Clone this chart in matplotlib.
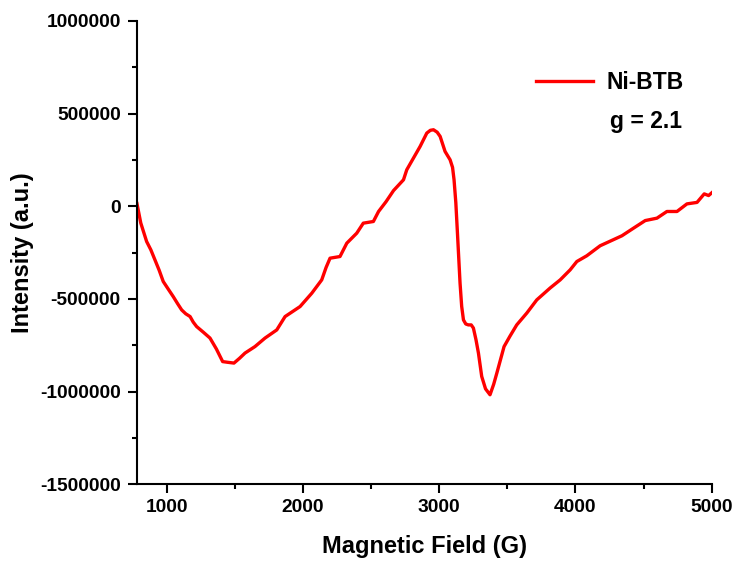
import numpy as np
import matplotlib
matplotlib.use('Agg')
import matplotlib.pyplot as plt
from matplotlib.ticker import MultipleLocator, FuncFormatter

# EPR spectrum of Ni-BTB
field = [782, 810, 853, 884, 914, 945, 975, 1010, 1048, 1080, 1110, 1140,
         1172, 1195, 1220, 1270, 1318, 1365, 1411, 1450, 1494, 1535, 1575,
         1648, 1722, 1808, 1869, 1979, 2065, 2138, 2170, 2199, 2272, 2322,
         2395, 2443, 2517, 2555, 2610, 2665, 2738, 2762, 2860, 2909, 2935,
         2958, 2985, 3007, 3043, 3080, 3098, 3109, 3122, 3134, 3153, 3165,
         3178, 3195, 3214, 3235, 3251, 3270, 3288, 3312, 3340, 3373, 3400,
         3423, 3476, 3520, 3569, 3643, 3716, 3814, 3888, 3961, 4010, 4083,
         4181, 4267, 4341, 4426, 4512, 4598, 4671, 4745, 4818, 4892, 4945,
         4977, 5002]
intensity = [15000, -90000, -190000, -235000, -289000, -345000, -406000,
             -445000, -487000, -525000, -559000, -580000, -595000, -625000,
             -649000, -680000, -711000, -770000, -838000, -842000, -846000,
             -820000, -792000, -757000, -711000, -667000, -595000, -541000,
             -469000, -397000, -330000, -280000, -271000, -199000, -145000,
             -91000, -82000, -28000, 25000, 85000, 143000, 197000, 323000,
             395000, 410000, 413000, 400000, 377000, 296000, 251000, 210000,
             143000, 20000, -145000, -414000, -540000, -613000, -635000,
             -640000, -640000, -657000, -720000, -792000, -918000, -985000,
             -1017000, -960000, -900000, -757000, -700000, -640000, -576000,
             -505000, -441000, -397000, -343000, -298000, -267000, -213000,
             -184000, -159000, -118000, -77000, -64000, -28000, -28000, 13000,
             21000, 67000, 58000, 74000]

plt.rcParams['font.family'] = ['Liberation Sans', 'DejaVu Sans']
plt.rcParams['font.weight'] = 'bold'

fig = plt.figure(figsize=(7.4, 5.67), dpi=100)
ax = fig.add_axes([0.1847, 0.1459, 0.7771, 0.8171])

ax.plot(field, intensity, color='#ff0000', lw=2.4, label='Ni-BTB')

ax.set_xlim(780, 5000)
ax.set_ylim(-1500000, 1000000)
ax.xaxis.set_major_locator(MultipleLocator(1000))
ax.xaxis.set_minor_locator(MultipleLocator(500))
ax.yaxis.set_major_locator(MultipleLocator(500000))
ax.yaxis.set_minor_locator(MultipleLocator(250000))
ax.yaxis.set_major_formatter(FuncFormatter(lambda v, p: '%d' % round(v)))

for s in ['top', 'right']:
    ax.spines[s].set_visible(False)
for s in ['left', 'bottom']:
    ax.spines[s].set_linewidth(1.5)

ax.tick_params(which='major', direction='out', length=6.5, width=1.5, labelsize=13.8)
ax.tick_params(which='minor', direction='out', length=3.6, width=1.5)
ax.tick_params(axis='x', which='major', pad=4)
ax.tick_params(axis='y', which='major', pad=5)

ax.set_xlabel('Magnetic Field (G)', fontsize=17, fontweight='bold')
ax.set_ylabel('Intensity (a.u.)', fontsize=17, fontweight='bold')
ax.xaxis.set_label_coords(0.5, -0.109)
ax.yaxis.set_label_coords(-0.1786, 0.5)

fig.legend(loc='center left', bbox_to_anchor=(0.7243, 0.8541), frameon=False,
           fontsize=16.5, handlelength=2.5, handletextpad=0.57,
           borderpad=0, borderaxespad=0)
fig.text(0.824, 0.7854, 'g = 2.1', fontsize=16.5, fontweight='bold', va='center')

fig.savefig('out.png', dpi=100)
